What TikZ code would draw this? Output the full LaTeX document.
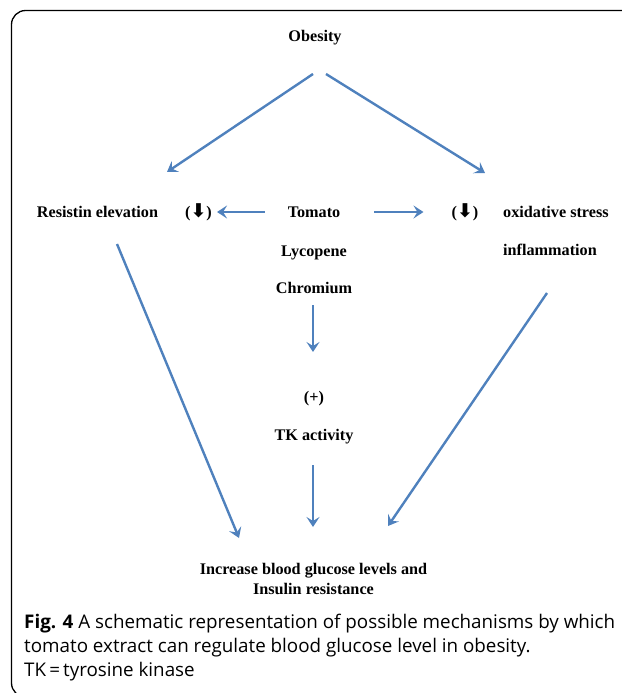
\documentclass[tikz,border=0pt]{standalone}
\usepackage{fontspec}
\setmainfont{Liberation Serif}
\newfontfamily\capfont{Open Sans}
\newfontfamily\symfont{DejaVu Sans}
\usetikzlibrary{arrows.meta,positioning}

\definecolor{arrowblue}{RGB}{79,129,189}
\newcommand{\diagfont}{\fontsize{16.2}{20}\selectfont\bfseries}
\newcommand{\dn}{({\symfont\bfseries\fontsize{19}{20}\selectfont\char"2B07})}

\tikzset{
  box/.style={font=\diagfont, inner sep=0pt},
  flow/.style={-{Stealth[length=10pt,width=13pt,inset=4pt]}, line width=2.4pt, draw=arrowblue},
}

\begin{document}
\begin{tikzpicture}[x=1pt, y=-1pt]

    \useasboundingbox (0,0) rectangle (621,693);

    % Rahmen
    \draw[line width=1.3pt, rounded corners=14pt] (640,10.5) -- (11.5,10.5) -- (11.5,697) -- (640,697);

    % Knoten
    \node[box] (obesity) at (315,38) {Obesity};
    \node[box] (resistin) at (97.5,212) {Resistin elevation};
    \node[box] (downL) at (198.5,212) {\dn};
    \node[box] (tomato) at (314,212) {Tomato};
    \node[box] (downR) at (465,212) {\dn};
    \node[box, anchor=west] (oxid) at (503,212) {oxidative stress};
    \node[box, anchor=west] (inflam) at (503,250) {inflammation};
    \node[box] (lycopene) at (314,253) {Lycopene};
    \node[box] (chromium) at (314,288) {Chromium};
    \node[box] (plus) at (314,399) {(+)};
    \node[box] (tk) at (314,437) {TK activity};
    \node[box, align=center] (result) at (313.5,579) {Increase blood glucose levels and\\Insulin resistance};

    % Legende
    \node[anchor=north west, inner sep=0pt, align=left, font=\capfont\fontsize{18.8}{24}\selectfont] (caption) at (24,614)
      {\textbf{Fig. 4} A schematic representation of possible mechanisms by which\\
       tomato extract can regulate blood glucose level in obesity.\\
       TK\,=\,tyrosine kinase};

    % Pfeile
    \draw[flow] ([shift={(-2,36)}]obesity.center) -- ([shift={(69.5,-40)}]resistin.center);
    \draw[flow] ([shift={(11,36)}]obesity.center) -- ([shift={(-18,-39)}]oxid.west);
    \draw[flow, shorten <=23pt, shorten >=5pt] (tomato.west) -- (downL.east);
    \draw[flow, shorten <=34pt, shorten >=28pt] (tomato.east) -- (downR.west);
    \draw[flow] ([shift={(-1,17)}]chromium.center) -- ([shift={(-1,-47)}]plus.center);
    \draw[flow] ([shift={(-1,28)}]tk.center) -- ([shift={(-0.5,-52)}]result.center);
    \draw[flow] ([shift={(19.5,32)}]resistin.center) -- ([shift={(-74.5,-41)}]result.center);
    \draw[flow] ([shift={(44,43)}]inflam.west) -- ([shift={(74.5,-53)}]result.center);

\end{tikzpicture}
\end{document}
